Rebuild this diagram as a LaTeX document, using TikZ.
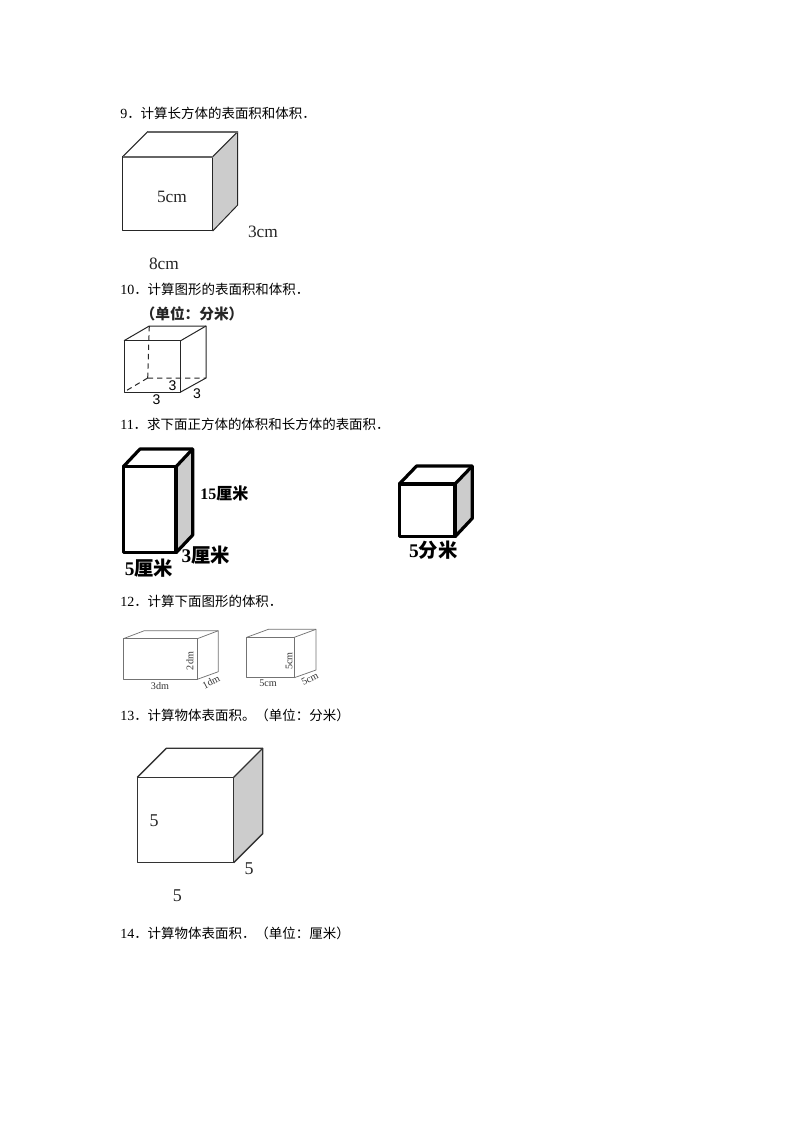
\documentclass[tikz,border=0pt]{standalone}
\usepackage{fontspec}
\setmainfont{Liberation Serif}
\newfontfamily\cjk{Noto Sans CJK SC}
\newfontfamily\sansf{Liberation Sans}
\newcommand{\qline}[3]{\node[qtext] (#1) at (120,#2) {#3};}
\newcommand{\qnum}[1]{{\rmfamily\fontsize{10.5pt}{12pt}\selectfont #1}}
\newcommand{\boxfig}[9]{% name, style, L, T, R, B, backR, backT, backB
  \coordinate (#1a) at (#3,#4);
  \coordinate (#1b) at (#5,#4);
  \coordinate (#1c) at (#5,#6);
  \coordinate (#1d) at (#3,#6);
  \coordinate (#1e) at ({#3+#7-#5},#8);
  \coordinate (#1f) at (#7,#8);
  \coordinate (#1g) at (#7,#9);
  \fill[sideface] (#1b) -- (#1f) -- (#1g) -- (#1c) -- cycle;
  \draw[#2] (#1a) -- (#1b) -- (#1c) -- (#1d) -- cycle;
  \draw[#2] (#1a) -- (#1e) -- (#1f) -- (#1g) -- (#1c);
  \draw[#2] (#1f) -- (#1b);
}
\tikzset{
  qtext/.style={anchor=west,inner sep=0pt,font=\cjk\fontsize{10.1pt}{12pt}\selectfont},
  sideface/.style={fill=black!20},
  plainside/.style={sideface/.style={fill=white}},
  thinbox/.style={draw=black!85,line width=0.75pt,line join=round},
  midbox/.style={draw=black!80,line width=1pt,line join=round},
  graybox/.style={draw=black!55,line width=0.55pt,line join=round},
  heavybox/.style={draw=black,line width=2.4pt,line join=round},
  dimlabel/.style={inner sep=0pt,font=\fontsize{13pt}{15pt}\selectfont,text=black!85},
  boldlabel/.style={inner sep=0pt,font=\bfseries\fontsize{12pt}{14pt}\selectfont},
  bigbold/.style={inner sep=0pt,font=\bfseries\fontsize{14.5pt}{16pt}\selectfont},
  tinylabel/.style={inner sep=0pt,font=\fontsize{7.6pt}{8pt}\selectfont,text=black!80},
  sanslabel/.style={inner sep=0pt,font=\sansf\fontsize{10.5pt}{12pt}\selectfont},
  seriflabel/.style={inner sep=0pt,font=\fontsize{13.5pt}{15pt}\selectfont,text=black!85},
}
\begin{document}
\begin{tikzpicture}[x=0.75pt,y=-0.75pt]
\useasboundingbox (0,0) rectangle (794,1123);
\fill[white] (0,0) rectangle (794,1123);
% question lines
\qline{qa}{113}{\qnum{9}．计算长方体的表面积和体积．}
\qline{qb}{289}{\qnum{10}．计算图形的表面积和体积．}
\qline{qc}{424}{\qnum{11}．求下面正方体的体积和长方体的表面积．}
\qline{qd}{601}{\qnum{12}．计算下面图形的体积．}
\qline{qe}{715}{\qnum{13}．计算物体表面积。（单位：分米）}
\qline{qf}{933}{\qnum{14}．计算物体表面积．（单位：厘米）}
% figure 9
\boxfig{p}{thinbox}{122.7}{156.7}{212.7}{231}{237.7}{131.7}{205}
\draw[draw=black!60,line width=1.3pt] (pa) -- (pb);
\draw[draw=black!60,line width=1.3pt] (pe) -- (pf);
\node[dimlabel] (pl1) at (172,197) {5cm};
\node[dimlabel] (pl2) at (263,232) {3cm};
\node[dimlabel] (pl3) at (164,264) {8cm};
% figure 10
\begin{scope}[plainside]
\boxfig{q}{thinbox}{124}{340.7}{180.7}{392}{206}{326}{378}
\end{scope}
\coordinate (qh) at (147.7,378);
\draw[thinbox,dash pattern=on 4pt off 3pt] (qe) -- (qh) (qh) -- (qg) (qh) -- (qd);
\node[inner sep=0pt,font=\cjk\bfseries\fontsize{11pt}{13pt}\selectfont,text=black!85] (ql0) at (192,314) {（单位：分米）};
\node[sanslabel] (ql1) at (156.5,400) {3};
\node[sanslabel] (ql2) at (172.5,386) {3};
\node[sanslabel] (ql3) at (197,394) {3};
% figure 11
\boxfig{r}{heavybox}{123.3}{466.7}{176}{552.7}{192.7}{449}{535}
\node[boldlabel] (rl1) at (224.3,493) {15{\cjk\bfseries 厘米}};
\node[bigbold] (rl2) at (205.7,555) {3{\cjk\bfseries 厘米}};
\node[bigbold] (rl3) at (149,568) {5{\cjk\bfseries 厘米}};
\boxfig{s}{heavybox}{399.3}{484}{455}{536.7}{472.3}{466}{518.3}
\node[bigbold] (sl1) at (433.3,550) {5{\cjk\bfseries 分米}};
% figure 12
\begin{scope}[plainside]
\boxfig{t}{graybox}{123.3}{638.7}{197.3}{679.3}{218.3}{630.7}{671.7}
\boxfig{u}{graybox}{246.7}{637.3}{294.3}{677.7}{316}{629.3}{670}
\end{scope}
\node[tinylabel] (tl1) at (160,686) {3dm};
\node[tinylabel,rotate=90] (tl2) at (190,661) {2dm};
\node[tinylabel,rotate=27] (tl3) at (211,682) {1dm};
\node[tinylabel] (ul1) at (268,683) {5cm};
\node[tinylabel,rotate=90] (ul2) at (289,661) {5cm};
\node[tinylabel,rotate=27] (ul3) at (310,679) {5cm};
% figure 13
\boxfig{v}{midbox}{137.3}{777.3}{233.7}{862.7}{262.7}{748.3}{833.7}
\node[seriflabel] (vl1) at (154,820.7) {5};
\node[seriflabel] (vl2) at (249,869) {5};
\node[seriflabel] (vl3) at (177.3,895.7) {5};
\end{tikzpicture}
\end{document}
